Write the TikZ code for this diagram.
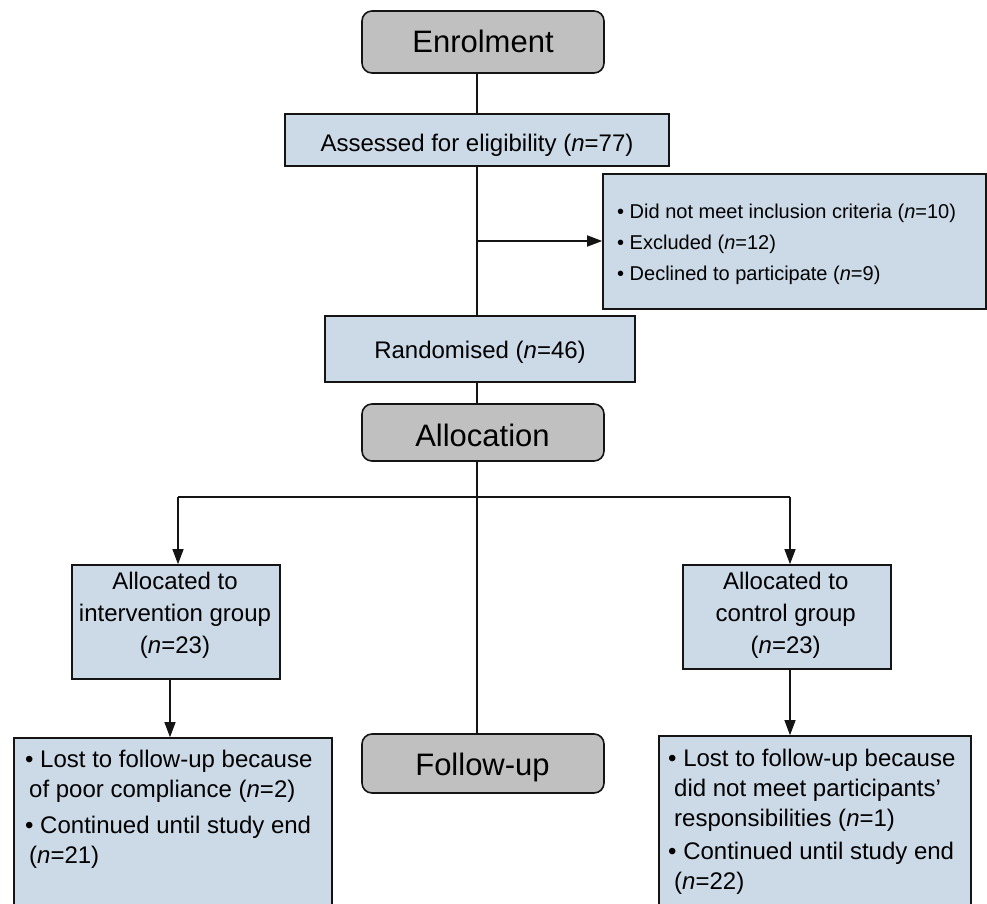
\documentclass[tikz,border=0pt]{standalone}
\usepackage{fontspec}
\setmainfont{Liberation Sans}
\usetikzlibrary{arrows.meta}
\definecolor{boxblue}{RGB}{204,218,232}
\definecolor{boxgray}{RGB}{192,192,192}
\definecolor{edgec}{RGB}{20,20,20}
\begin{document}
\begin{tikzpicture}[x=1pt,y=-1pt,
  bluebox/.style={draw=edgec, line width=1.6pt, fill=boxblue, inner sep=0pt},
  graybox/.style={draw=edgec, line width=1.6pt, fill=boxgray, rounded corners=10pt, inner sep=0pt},
  ttl/.style={font=\fontsize{31}{36}\selectfont, inner sep=0pt, anchor=base},
  body/.style={font=\fontsize{24}{30}\selectfont, inner sep=0pt},
  small/.style={font=\fontsize{20}{31}\selectfont, inner sep=0pt},
  conn/.style={draw=edgec, line width=1.1pt},
  arr/.style={conn, -{Triangle[length=15pt,width=11pt]}},
]
\useasboundingbox (0,0) rectangle (987,904);
\clip (0,0) rectangle (987,904);

% boxes
\node[graybox, minimum width=242pt, minimum height=62pt] (enrol) at (483,42) {};
\node[bluebox, minimum width=384pt, minimum height=52pt] (assess) at (477,140) {};
\node[bluebox, minimum width=383pt, minimum height=135pt] (excl) at (794.5,241.5) {};
\node[bluebox, minimum width=310pt, minimum height=66pt] (rand) at (480,349) {};
\node[graybox, minimum width=242pt, minimum height=57pt] (alloc) at (483,432.5) {};
\node[bluebox, minimum width=208pt, minimum height=114pt] (interv) at (176,622) {};
\node[bluebox, minimum width=208pt, minimum height=104pt] (ctrl) at (787,617) {};
\node[graybox, minimum width=242pt, minimum height=59pt] (follow) at (483,763.5) {};
\node[bluebox, minimum width=318pt, minimum height=192pt] (lostL) at (173,834) {};
\node[bluebox, minimum width=312pt, minimum height=194pt] (lostR) at (815,833) {};

% texts
\node[ttl] (tEnrol) at (483,52.7) {Enrolment};
\node[body, anchor=base] (tAssess) at (477,151.7) {Assessed for eligibility (\textit{n}=77)};
\node[small, anchor=north west, align=left] (tExcl) at (617,203.4) {• Did not meet inclusion criteria (\textit{n}=10)\\• Excluded (\textit{n}=12)\\• Declined to participate (\textit{n}=9)};
\node[body, anchor=base] (tRand) at (480,358.3) {Randomised (\textit{n}=46)};
\node[ttl] (tAlloc) at (482.5,446.7) {Allocation};
\node[body, anchor=north, align=center, font=\fontsize{24}{32}\selectfont] (tInterv) at (175,571.5) {Allocated to\\intervention group\\(\textit{n}=23)};
\node[body, anchor=north, align=center, font=\fontsize{24}{32}\selectfont] (tCtrl) at (785.7,571.5) {Allocated to\\control group\\(\textit{n}=23)};
\node[ttl] (tFollow) at (482.5,775) {Follow-up};
\node[body, anchor=north west, align=left] (tLostL) at (25,749.5) {• Lost to follow-up because\\\hspace*{4pt}of poor compliance (\textit{n}=2)\\[6pt]• Continued until study end\\\hspace*{4pt}(\textit{n}=21)};
\node[body, anchor=north west, align=left] (tLostR) at (668,748.5) {• Lost to follow-up because\\\hspace*{6pt}did not meet participants’\\\hspace*{6pt}responsibilities (\textit{n}=1)\\[3pt]• Continued until study end\\\hspace*{6pt}(\textit{n}=22)};

% connectors
\draw[conn] (enrol.south -| assess.north) -- (assess.north);
\draw[conn] (assess.south) -- (assess.south |- rand.north);
\coordinate (exbr) at (477,241);
\draw[arr, line width=1.5pt] (exbr) -- (exbr -| excl.west);
\draw[conn] (rand.south -| assess.south) -- (alloc.north -| assess.south);
\draw[conn] (alloc.south -| assess.south) -- (follow.north -| assess.south);
\coordinate (alL) at (178,497);
\coordinate (alR) at (790,497);
\draw[conn, line width=2pt] (alL) -- (alR);
\draw[arr] (alL) -- (alL |- interv.north);
\draw[arr] (alR) -- (alR |- ctrl.north);
\draw[arr] ([xshift=-6pt]interv.south) -- ([xshift=-6pt]interv.south |- lostL.north);
\draw[arr] ([xshift=3pt]ctrl.south) -- ([xshift=3pt]ctrl.south |- lostR.north);
\end{tikzpicture}
\end{document}
